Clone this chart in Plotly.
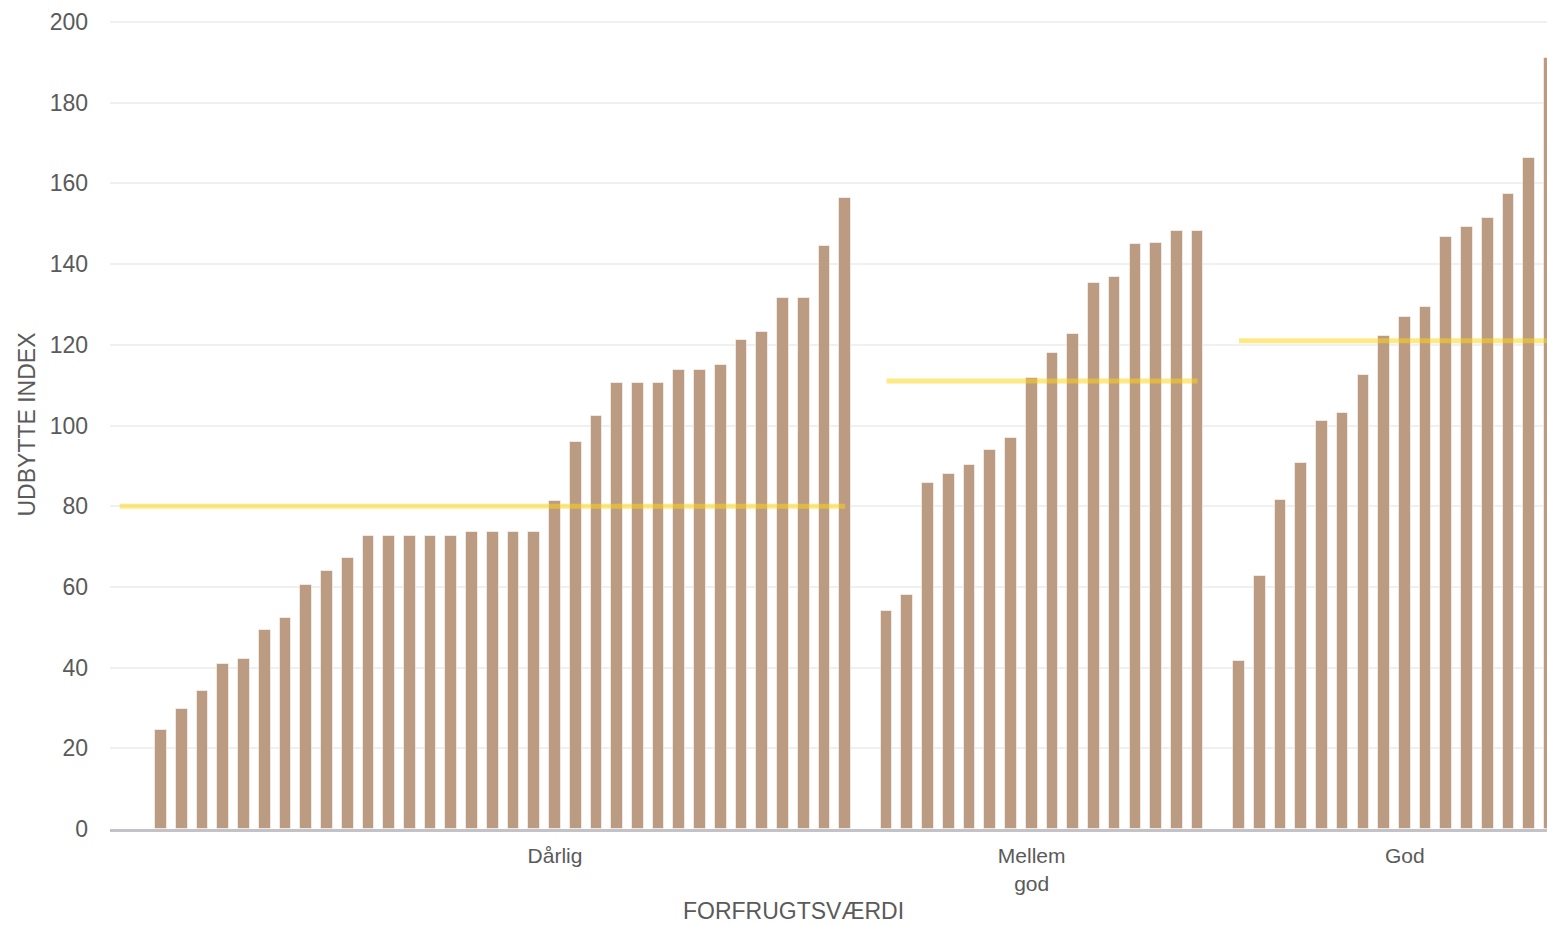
import numpy as np
import plotly.graph_objects as go

# ---- data ----
group_labels = ["Dårlig", "Mellem<br>god", "God"]
darlig = [24.6, 29.8, 34.2, 40.8, 42.1, 49.2, 52.2, 60.4, 63.9, 67.2,
          72.7, 72.7, 72.7, 72.7, 72.7, 73.5, 73.5, 73.5, 73.5, 81.4,
          96.0, 102.4, 110.6, 110.6, 110.6, 113.8, 113.8, 114.9, 121.2, 123.1,
          131.5, 131.5, 144.4, 156.5]
mellem_god = [54.1, 58.0, 85.8, 88.1, 90.1, 93.9, 96.8, 111.8, 118.0, 122.6,
              135.4, 136.7, 144.9, 145.3, 148.3, 148.3]
god = [41.6, 62.6, 81.6, 90.6, 101.2, 103.1, 112.6, 122.3, 127.0, 129.4,
       146.8, 149.3, 151.5, 157.5, 166.4, 191.2]
group_averages = [80, 111, 121]
y_ticks = [0, 20, 40, 60, 80, 100, 120, 140, 160, 180, 200]
y_title = "UDBYTTE INDEX"
x_title = "FORFRUGTSVÆRDI"

groups = [darlig, mellem_god, god]

# ---- layout helpers (slot positions) ----
LEAD = 2      # empty slots before the first group
GAP = 1       # empty slots between groups
label_offset = [19, 7, 8]

BAR_COLOR = "rgb(187,156,130)"
LINE_COLOR = "rgba(255,212,20,0.52)"
FONT = "Liberation Sans, Arial, sans-serif"
TXT = "#5a5a5a"

fig = go.Figure()
start = LEAD
tickvals = []
line_spans = []
for gi, vals in enumerate(groups):
    xs = start + np.arange(len(vals))
    fig.add_trace(go.Bar(
        x=xs, y=vals, width=0.565,
        marker=dict(color=BAR_COLOR, line=dict(color="rgba(255,255,255,0.55)", width=1)),
        showlegend=False, hoverinfo="y"))
    x0 = 0 if gi == 0 else xs[0]
    line_spans.append((x0, xs[-1]))
    tickvals.append(start + label_offset[gi])
    start += len(vals) + GAP

for (x0, x1), avg in zip(line_spans, group_averages):
    fig.add_trace(go.Scatter(
        x=[x0, x1], y=[avg, avg], mode="lines",
        line=dict(color=LINE_COLOR, width=5),
        showlegend=False, hoverinfo="y"))

PLOT_W = 1437
PLOT_H = 809
fig.update_layout(
    width=1547, height=925,
    margin=dict(l=110, r=0, t=20, b=96, autoexpand=False),
    paper_bgcolor="white", plot_bgcolor="white",
    font=dict(family=FONT, color=TXT),
    bargap=0,
    xaxis=dict(
        range=[-0.468, 68.86], automargin=False,
        tickvals=tickvals, ticktext=group_labels,
        tickfont=dict(size=21, color=TXT, family=FONT),
        showgrid=False, zeroline=False,
        showline=True, linecolor="#c3c3c7", linewidth=3,
        ticks="", ticklabelstandoff=6,
    ),
    yaxis=dict(
        range=[0, 200.5], tickvals=y_ticks, automargin=False,
        tickfont=dict(size=23, color=TXT, family=FONT),
        showgrid=True, gridcolor="#f0f0f0", gridwidth=2,
        zeroline=False, ticks="", ticklabelstandoff=21,
    ),
    annotations=[
        dict(text=x_title, xref="paper", yref="paper",
             x=(793 - 110) / PLOT_W, y=-(911 - 829) / PLOT_H,
             xanchor="center", yanchor="middle", showarrow=False,
             borderpad=0,
             font=dict(size=23, color=TXT, family=FONT)),
        dict(text=y_title, xref="paper", yref="paper",
             x=(26 - 110) / PLOT_W, y=0.5, textangle=-90,
             xanchor="center", yanchor="middle", showarrow=False,
             font=dict(size=23, color=TXT, family=FONT)),
    ],
)

fig.write_html(
    "out.html",
    config={"displayModeBar": False},
    post_script="document.body.style.margin='0';document.body.style.overflow='hidden';",
)
